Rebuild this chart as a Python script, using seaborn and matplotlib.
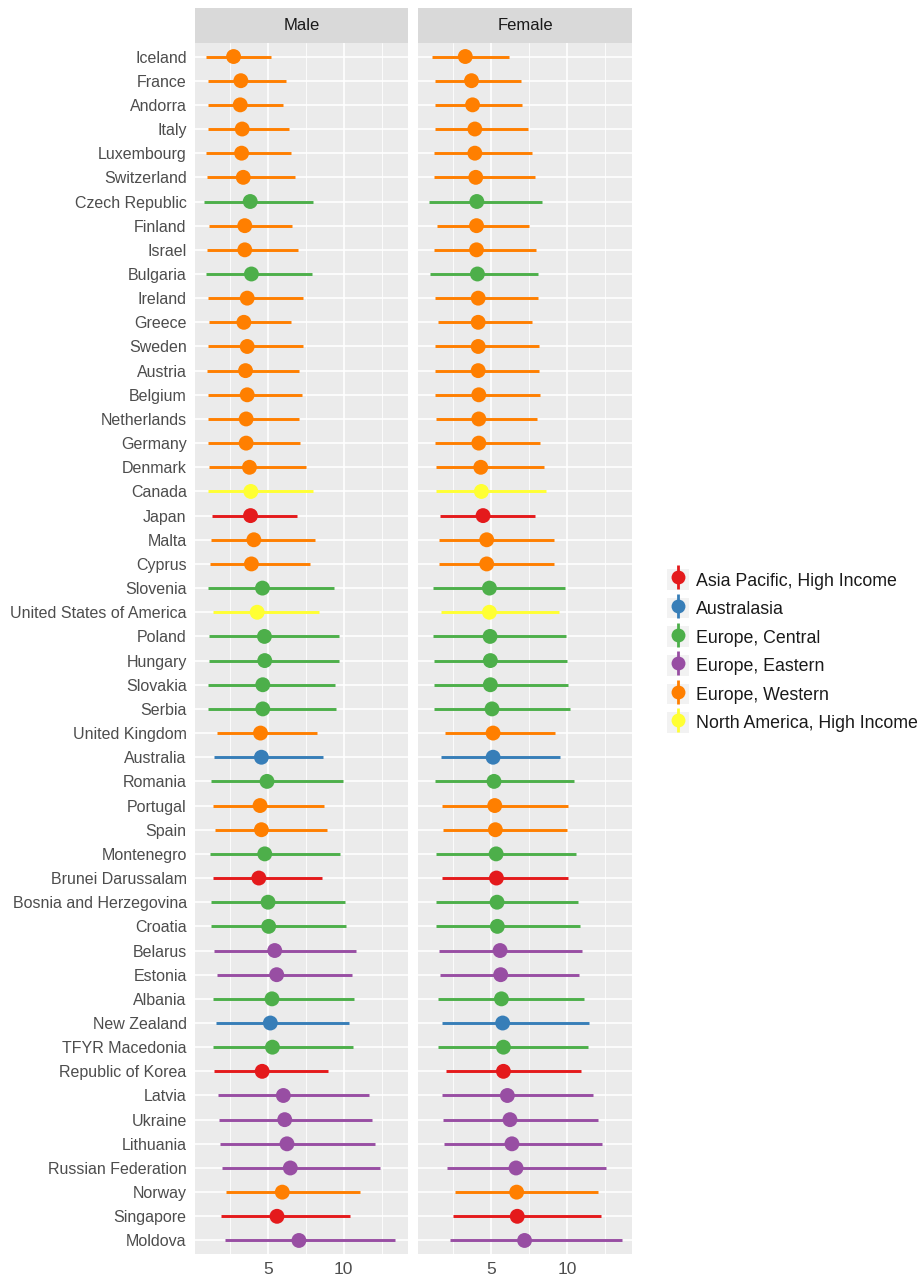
import numpy as np
import pandas as pd
import matplotlib
matplotlib.use("Agg")
import matplotlib.pyplot as plt
from matplotlib.lines import Line2D
from matplotlib.patches import Rectangle
from matplotlib.legend_handler import HandlerTuple
import seaborn as sns

countries = ["Iceland", "France", "Andorra", "Italy", "Luxembourg", "Switzerland",
             "Czech Republic", "Finland", "Israel", "Bulgaria", "Ireland", "Greece",
             "Sweden", "Austria", "Belgium", "Netherlands", "Germany", "Denmark",
             "Canada", "Japan", "Malta", "Cyprus", "Slovenia", "United States of America",
             "Poland", "Hungary", "Slovakia", "Serbia", "United Kingdom", "Australia",
             "Romania", "Portugal", "Spain", "Montenegro", "Brunei Darussalam",
             "Bosnia and Herzegovina", "Croatia", "Belarus", "Estonia", "Albania",
             "New Zealand", "TFYR Macedonia", "Republic of Korea", "Latvia", "Ukraine",
             "Lithuania", "Russian Federation", "Norway", "Singapore", "Moldova"]

W, C, E, AP, AU, NA = ("Europe, Western", "Europe, Central", "Europe, Eastern",
                       "Asia Pacific, High Income", "Australasia", "North America, High Income")
regions = [W, W, W, W, W, W, C, W, W, C, W, W, W, W, W, W, W, W, NA, AP,
           W, W, C, NA, C, C, C, C, W, AU, C, W, W, C, AP, C, C, E, E, C,
           AU, C, AP, E, E, E, E, W, AP, E]

male_est = [2.72, 3.20, 3.16, 3.29, 3.25, 3.36, 3.82, 3.46, 3.46, 3.90,
            3.62, 3.40, 3.62, 3.51, 3.62, 3.55, 3.55, 3.77, 3.86, 3.84,
            4.06, 3.90, 4.63, 4.28, 4.76, 4.78, 4.65, 4.65, 4.50, 4.56,
            4.93, 4.47, 4.56, 4.78, 4.39, 5.00, 5.04, 5.44, 5.57, 5.26,
            5.15, 5.29, 4.61, 6.01, 6.10, 6.25, 6.47, 5.94, 5.59, 7.04]
male_lo = [0.88, 1.05, 1.01, 1.01, 0.90, 0.94, 0.79, 1.12, 0.99, 0.90,
           1.05, 1.12, 1.05, 0.96, 1.01, 1.05, 1.01, 1.10, 1.05, 1.32,
           1.21, 1.14, 1.05, 1.38, 1.12, 1.12, 1.05, 1.05, 1.64, 1.43,
           1.21, 1.38, 1.49, 1.14, 1.34, 1.21, 1.23, 1.45, 1.64, 1.36,
           1.54, 1.34, 1.45, 1.71, 1.78, 1.82, 1.93, 2.21, 1.89, 2.15]
male_hi = [5.22, 6.18, 5.99, 6.38, 6.54, 6.75, 7.96, 6.60, 7.00, 7.92,
           7.28, 6.51, 7.32, 7.04, 7.26, 7.04, 7.11, 7.48, 7.96, 6.91,
           8.07, 7.76, 9.39, 8.36, 9.71, 9.71, 9.45, 9.52, 8.25, 8.62,
           9.96, 8.73, 8.90, 9.74, 8.55, 10.09, 10.18, 10.79, 10.57, 10.66,
           10.35, 10.59, 8.97, 11.67, 11.86, 12.06, 12.37, 11.05, 10.44, 13.38]

female_est = [3.28, 3.69, 3.76, 3.91, 3.91, 3.97, 4.04, 4.02, 4.02, 4.08,
              4.13, 4.13, 4.13, 4.13, 4.17, 4.17, 4.17, 4.30, 4.34, 4.45,
              4.69, 4.69, 4.87, 4.87, 4.91, 4.93, 4.93, 5.04, 5.11, 5.11,
              5.17, 5.22, 5.26, 5.31, 5.33, 5.37, 5.39, 5.57, 5.61, 5.66,
              5.74, 5.79, 5.79, 6.05, 6.22, 6.35, 6.62, 6.66, 6.70, 7.18]
female_lo = [1.11, 1.29, 1.29, 1.29, 1.20, 1.22, 0.90, 1.40, 1.22, 0.98,
             1.29, 1.46, 1.29, 1.29, 1.29, 1.33, 1.29, 1.35, 1.33, 1.62,
             1.55, 1.55, 1.16, 1.68, 1.18, 1.20, 1.22, 1.22, 1.94, 1.66,
             1.29, 1.77, 1.81, 1.33, 1.77, 1.33, 1.38, 1.57, 1.62, 1.46,
             1.77, 1.51, 1.99, 1.72, 1.83, 1.88, 2.05, 2.58, 2.49, 2.27]
female_hi = [6.14, 6.97, 7.03, 7.40, 7.69, 7.84, 8.36, 7.45, 7.93, 8.06,
             8.06, 7.69, 8.10, 8.12, 8.21, 8.01, 8.19, 8.45, 8.60, 7.84,
             9.15, 9.15, 9.87, 9.43, 9.93, 9.96, 10.02, 10.17, 9.19, 9.54,
             10.41, 10.02, 9.98, 10.57, 10.07, 10.70, 10.83, 10.94, 10.79, 11.07,
             11.40, 11.38, 10.92, 11.70, 12.01, 12.27, 12.53, 12.03, 12.23, 13.56]

region_order = [AP, AU, C, E, W, NA]
palette_colors = ["#E41A1C", "#377EB8", "#4DAF4A", "#984EA3", "#FF7F00", "#FFFF33"]
palette = dict(zip(region_order, palette_colors))

sexes = ["Male", "Female"]
rows = []
for sex, est, lo, hi in [("Male", male_est, male_lo, male_hi),
                         ("Female", female_est, female_lo, female_hi)]:
    for i, c in enumerate(countries):
        rows.append(dict(sex=sex, country=c, pos=i, region=regions[i],
                         est=est[i], lo=lo[i], hi=hi[i]))
df = pd.DataFrame(rows)

sns.set_style("white")
plt.rcParams["font.family"] = ["Liberation Sans", "DejaVu Sans"]

fig = plt.figure(figsize=(9.22, 12.79), dpi=100)
H = 1279.0
Wd = 922.0
panel_top, panel_bot = 43, 1254
panels = [(195, 408), (418, 632)]
n = len(countries)

for k, sex in enumerate(sexes):
    x0, x1 = panels[k]
    ax = fig.add_axes([x0 / Wd, (H - panel_bot) / H, (x1 - x0) / Wd, (panel_bot - panel_top) / H])
    ax.set_facecolor("#EBEBEB")
    sub = df[df.sex == sex]
    ax.hlines(sub["pos"], sub["lo"], sub["hi"],
              colors=[palette[r] for r in sub["region"]], linewidth=2.1, zorder=3)
    sns.scatterplot(data=sub, x="est", y="pos", hue="region", palette=palette,
                    s=115, linewidth=0, ax=ax, legend=False, zorder=4)
    ax.set_xlim(0.17, 14.25)
    ax.set_ylim(n - 1 + 0.56, -0.56)
    ax.set_xticks([5, 10])
    ax.set_xticks([2.5, 7.5, 12.5], minor=True)
    ax.set_yticks(np.arange(n))
    ax.grid(True, which="major", color="white", linewidth=1.2, zorder=0)
    ax.grid(True, which="minor", axis="x", color="white", linewidth=0.6, zorder=0)
    ax.set_axisbelow(True)
    for s in ax.spines.values():
        s.set_visible(False)
    ax.set_xlabel("")
    ax.set_ylabel("")
    ax.tick_params(axis="x", which="major", length=4, width=1.1, color="#333333",
                   labelsize=12.5, labelcolor="#4D4D4D", pad=2)
    ax.tick_params(axis="x", which="minor", length=0)
    if k == 0:
        ax.set_yticklabels(countries)
        ax.tick_params(axis="y", length=4, width=1.1, color="#333333",
                       labelsize=11.5, labelcolor="#4D4D4D", pad=2)
    else:
        ax.set_yticklabels([])
        ax.tick_params(axis="y", length=0)
    # facet strip
    sax = fig.add_axes([x0 / Wd, (H - panel_top) / H, (x1 - x0) / Wd, (panel_top - 8) / H])
    sax.set_facecolor("#D9D9D9")
    sax.set_xticks([])
    sax.set_yticks([])
    for s in sax.spines.values():
        s.set_visible(False)
    sax.text(0.5, 0.5, sex, ha="center", va="center", fontsize=12, color="#1A1A1A",
             transform=sax.transAxes)

handles = []
for r in region_order:
    col = palette[r]
    bg = Rectangle((0, 0), 1, 1, facecolor="#F2F2F2", edgecolor="none")
    vline = Line2D([], [], linestyle="none", marker="|", markersize=17,
                   markeredgewidth=2.0, color=col)
    dot = Line2D([], [], linestyle="none", marker="o", markersize=10,
                 markeredgewidth=0, color=col)
    handles.append((bg, vline, dot))

fig.legend(handles, region_order, loc="center left",
           bbox_to_anchor=(667 / Wd, 1 - 651 / H),
           handler_map={tuple: HandlerTuple(ndivide=1, pad=0)},
           frameon=False, fontsize=12.8, handlelength=1.25, handleheight=1.4,
           handletextpad=0.4, labelspacing=0.45, borderpad=0, borderaxespad=0,
           labelcolor="#1A1A1A")

fig.savefig("out.png", dpi=100, facecolor="white")
